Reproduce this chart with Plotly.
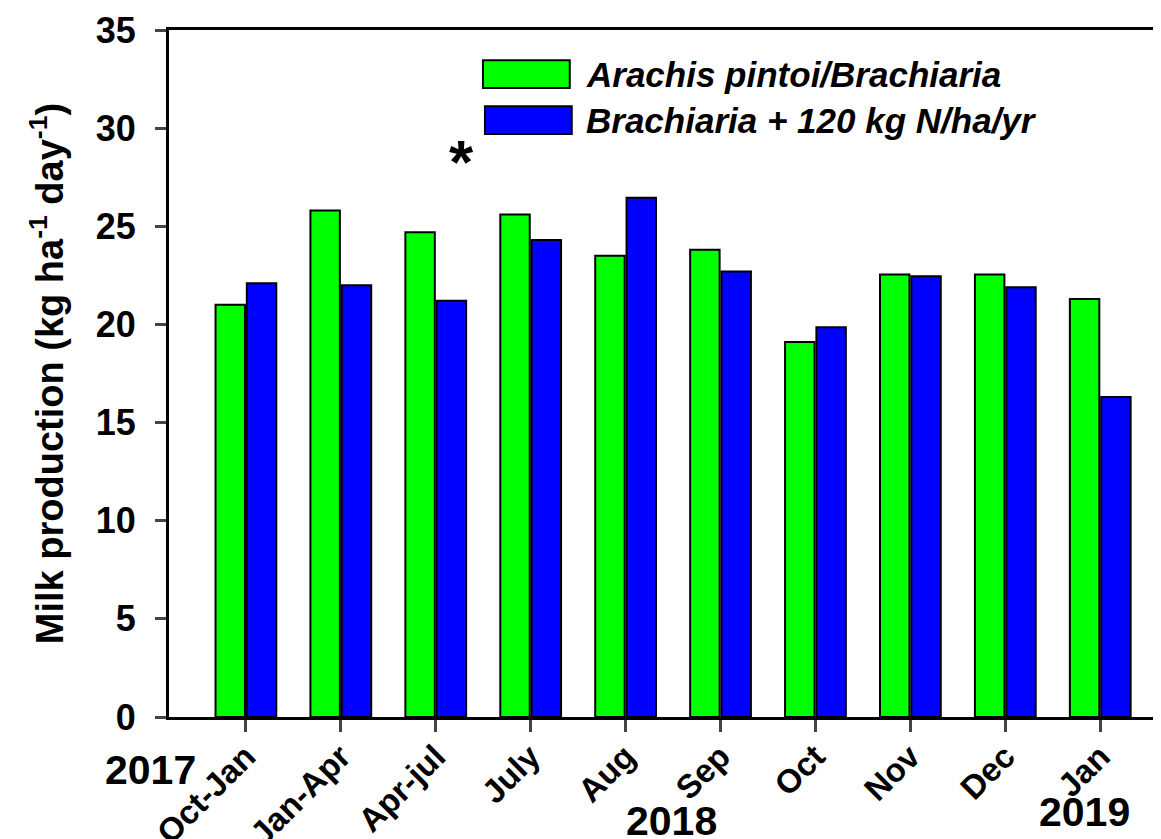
import plotly.graph_objects as go

periods = ["Oct-Jan", "Jan-Apr", "Apr-jul", "July", "Aug", "Sep", "Oct", "Nov", "Dec", "Jan"]
arachis = [21.0, 25.8, 24.7, 25.6, 23.5, 23.8, 19.1, 22.55, 22.55, 21.3]
brachiaria_n = [22.1, 22.0, 21.2, 24.3, 26.45, 22.7, 19.85, 22.45, 21.9, 16.3]
series_names = ["Arachis pintoi/Brachiaria", "Brachiaria + 120 kg N/ha/yr"]
years = ["2017", "2018", "2019"]
y_ticks = [0, 5, 10, 15, 20, 25, 30, 35]

FONT = "Liberation Sans, Arial, sans-serif"
GREEN = "#00ff00"
BLUE = "#0000ff"

x_pos = list(range(len(periods)))

fig = go.Figure()
fig.add_trace(go.Bar(x=x_pos, y=arachis, name=series_names[0],
                     marker=dict(color=GREEN, line=dict(color="black", width=2))))
fig.add_trace(go.Bar(x=x_pos, y=brachiaria_n, name=series_names[1],
                     marker=dict(color=BLUE, line=dict(color="black", width=2))))

# page body has an 8px margin, so the figure is sized to fit inside the window
fig.update_layout(
    width=1153,
    height=831,
    margin=dict(l=161, r=0, t=22, b=122),
    paper_bgcolor="white",
    plot_bgcolor="white",
    barmode="group",
    bargap=0.34,
    bargroupgap=0.06,
    showlegend=False,
    font=dict(family=FONT, color="black"),
)

fig.update_xaxes(
    range=[-0.81, 9.64],
    tickmode="array",
    tickvals=x_pos,
    ticktext=periods,
    tickangle=-45,
    tickfont=dict(size=33, weight="bold"),
    ticks="outside",
    ticklen=12,
    tickwidth=3,
    ticklabelstandoff=-8,
    showline=True,
    linewidth=3,
    linecolor="black",
    mirror=True,
    showgrid=False,
    zeroline=False,
    automargin=False,
)
fig.update_yaxes(
    range=[0, 35],
    tickmode="array",
    tickvals=y_ticks,
    tickfont=dict(size=36, weight="bold"),
    ticks="outside",
    ticklen=11,
    tickwidth=3,
    ticklabelstandoff=12,
    showline=True,
    linewidth=3,
    linecolor="black",
    showgrid=False,
    zeroline=False,
    automargin=False,
    title=dict(text="Milk production (kg ha<sup>-1</sup> day<sup>-1</sup>)",
               font=dict(size=38, weight="bold"), standoff=21),
)

# legend drawn as boxes with labels (paper coords)
legend_rows = [(0.3165, 0.956, 0.404, 0.9156, GREEN), (0.3185, 0.889, 0.406, 0.8486, BLUE)]
for (x0, y0, x1, y1, col), name in zip(legend_rows, series_names):
    fig.add_shape(type="rect", xref="paper", yref="paper", x0=x0, y0=y1, x1=x1, y1=y0,
                  fillcolor=col, line=dict(color="black", width=2))
    fig.add_annotation(xref="paper", yref="paper", x=0.418, y=(y0 + y1) / 2,
                       text=name, showarrow=False, xanchor="left", yanchor="middle",
                       font=dict(size=35, weight="bold", style="italic"))

# significance marker
fig.add_annotation(x=2.27, y=28.3, text="*", showarrow=False,
                   font=dict(size=62, weight="bold"))

# year labels below the axis
year_x = [-0.019, 0.507, 0.923]
year_y = [-0.077, -0.151, -0.139]
for yr, xx, yy in zip(years, year_x, year_y):
    fig.add_annotation(x=xx, xref="paper", y=yy, yref="paper", text=yr, showarrow=False,
                       xanchor="center", yanchor="middle",
                       font=dict(size=41, weight="bold"))

fig.write_html("out.html")
